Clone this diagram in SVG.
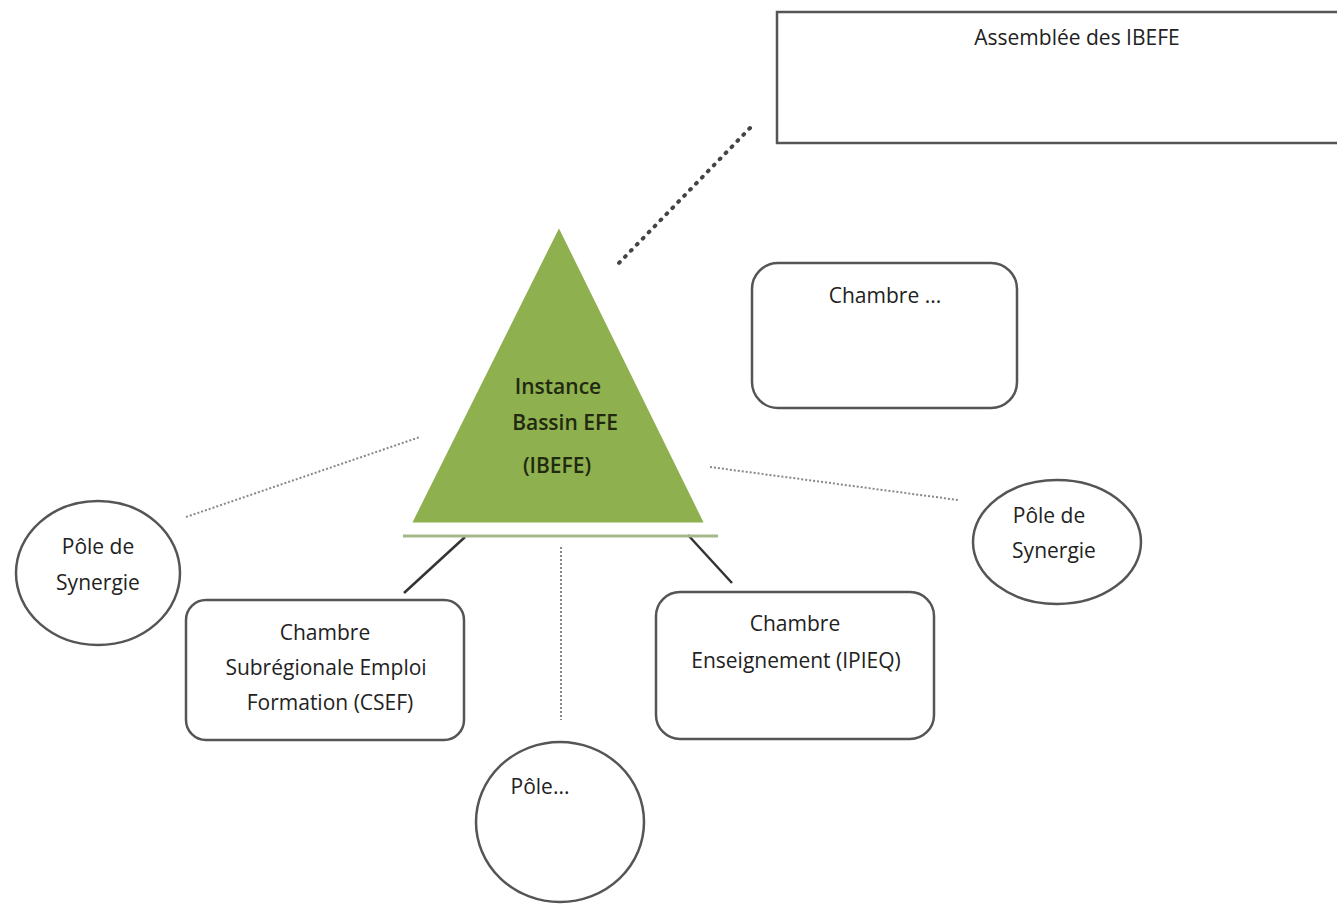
<svg xmlns="http://www.w3.org/2000/svg" width="1337" height="904" viewBox="0 0 1337 904">
<style>
text{font-family:"Open Sans","Liberation Sans",sans-serif;font-size:21px;fill:#222;text-anchor:middle}
.box{fill:#fff;stroke:#555;stroke-width:2.5}
.solid{stroke:#333;stroke-width:2.5;fill:none}
.dot{stroke:#444;stroke-width:4;stroke-dasharray:1 7.5;stroke-linecap:round;fill:none}
.fine{stroke:#888;stroke-width:2;stroke-dasharray:2 2;fill:none}
.tri{fill:#1f2a10;font-weight:600}
</style>
<rect width="1337" height="904" fill="#fff"/>
<g id="connectors">
<line class="dot" x1="750" y1="128" x2="619" y2="263"/>
<line class="fine" x1="186" y1="517" x2="420" y2="437"/>
<line class="fine" x1="710" y1="467" x2="958" y2="500"/>
<line class="fine" x1="561" y1="547" x2="561" y2="720"/>
<line class="solid" x1="465" y1="537" x2="404" y2="593"/>
<line class="solid" x1="688" y1="535" x2="732" y2="583"/>
</g>
<g id="assemblee">
<rect class="box" x="777" y="12" width="580" height="131"/>
<text x="1077" y="45">Assemblée des IBEFE</text>
</g>
<g id="ibefe">
<polygon points="559,225 410,524 706,524" fill="#8fb04f" stroke="#fff" stroke-width="3"/>
<line x1="403" y1="536" x2="718" y2="536" stroke="#a5b88a" stroke-width="3"/>
<text class="tri" x="558" y="394">Instance</text>
<text class="tri" x="565" y="430">Bassin EFE</text>
<text class="tri" x="557" y="473">(IBEFE)</text>
</g>
<g id="chambre-autre">
<rect class="box" x="752" y="263" width="265" height="145" rx="26"/>
<text x="885" y="303">Chambre ...</text>
</g>
<g id="pole-gauche">
<ellipse class="box" cx="98" cy="573" rx="82" ry="72"/>
<text x="98" y="554">Pôle de</text>
<text x="98" y="590">Synergie</text>
</g>
<g id="pole-droite">
<ellipse class="box" cx="1057" cy="542" rx="84" ry="62"/>
<text x="1049" y="523">Pôle de</text>
<text x="1054" y="558">Synergie</text>
</g>
<g id="csef">
<rect class="box" x="186" y="600" width="278" height="140" rx="20"/>
<text x="325" y="640">Chambre</text>
<text x="326" y="675">Subrégionale Emploi</text>
<text x="330" y="710">Formation (CSEF)</text>
</g>
<g id="ipieq">
<rect class="box" x="656" y="592" width="278" height="147" rx="24"/>
<text x="795" y="631">Chambre</text>
<text x="796" y="668">Enseignement (IPIEQ)</text>
</g>
<g id="pole-autre">
<ellipse class="box" cx="560" cy="822" rx="84" ry="80"/>
<text x="540" y="794">Pôle...</text>
</g>
</svg>
